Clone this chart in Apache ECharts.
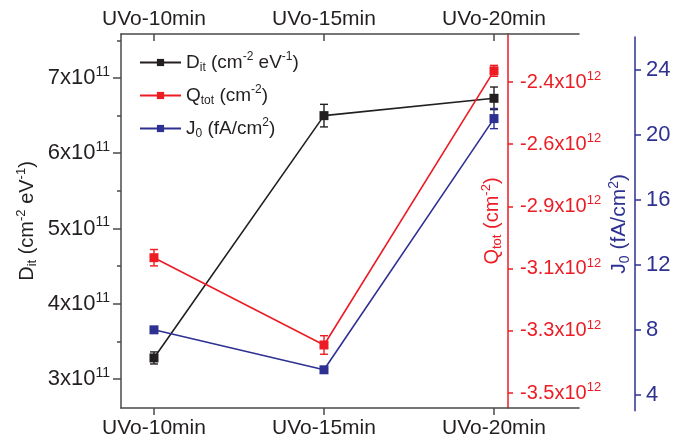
<!DOCTYPE html>
<html><head><meta charset="utf-8">
<script src="https://cdn.jsdelivr.net/npm/echarts@6/dist/echarts.min.js"></script>
<style>html,body{margin:0;padding:0;background:#fff}#c{width:686px;height:444px}</style>
</head><body><div id="c"></div><script>
// ---- data ----
const categories = ['UVo-10min', 'UVo-15min', 'UVo-20min'];
const ditValues = [3.28, 6.50, 6.73];      // x10^11 cm^-2 eV^-1
const ditErrors = [0.08, 0.15, 0.15];
const qtotValues = [-3.044, -3.364, -2.359]; // x10^12 cm^-2
const qtotErrors = [0.03, 0.034, 0.02];
const j0Values = [7.98, 5.52, 20.98];       // fA/cm^2
const j0Errors = [0, 0, 0.62];
const ditTicks = [3, 4, 5, 6, 7];
const ditMinorTicks = [3.5, 4.5, 5.5, 6.5, 7.5];
const qtotTicks = [-3.54, -3.312, -3.084, -2.856, -2.628, -2.4];
const qtotTickLabels = ['-3.5', '-3.3', '-3.1', '-2.9', '-2.6', '-2.4'];
const j0Ticks = [4, 8, 12, 16, 20, 24];
const catTicks = [0, 1, 2];

// ---- style ----
const FONT = '"Liberation Sans", Arial, sans-serif';
const BLACK = '#231f20', RED = '#ed1c24', BLUE = '#2e3192', FRAME = '#4a4a4a';

function richSet(color, size) {
  return {
    a: {fontFamily: FONT, fontSize: size, color: color, lineHeight: size + 4},
    sp: {fontFamily: FONT, fontSize: Math.round(size * 0.65), color: color, verticalAlign: 'top', lineHeight: Math.round(size * 0.65)},
    sb: {fontFamily: FONT, fontSize: Math.round(size * 0.65), color: color, verticalAlign: 'bottom', lineHeight: Math.round(size * 0.65)}
  };
}

const xBase = {
  type: 'value', min: -0.194, max: 2.5,
  splitLine: {show: false},
  axisLine: {show: true, onZero: false, lineStyle: {color: FRAME, width: 1.5}},
};

const xAxes = [
  Object.assign({}, xBase, {
    gridIndex: 0, position: 'bottom',
    axisTick: {show: true, customValues: catTicks, length: 7, lineStyle: {color: FRAME, width: 1.5}},
    axisLabel: {customValues: catTicks, formatter: v => categories[Math.round(v)], fontFamily: FONT, fontSize: 21, color: BLACK, margin: 10}
  }),
  Object.assign({}, xBase, {
    gridIndex: 0, position: 'top',
    axisTick: {show: true, inside: true, customValues: catTicks, length: 7, lineStyle: {color: FRAME, width: 1.5}},
    axisLabel: {customValues: catTicks, formatter: v => categories[Math.round(v)], fontFamily: FONT, fontSize: 21, color: BLACK, margin: 4}
  }),
  Object.assign({}, xBase, {gridIndex: 1, show: false})
];

const yAxes = [
  { // Dit
    type: 'value', gridIndex: 0, position: 'left', min: 2.6146, max: 7.5847,
    splitLine: {show: false},
    axisLine: {show: true, onZero: false, lineStyle: {color: FRAME, width: 1.5}},
    axisTick: {show: true, customValues: ditTicks, length: 8, lineStyle: {color: FRAME, width: 1.5}},
    axisLabel: {customValues: ditTicks, margin: 11, formatter: v => '{a|' + Math.round(v) + 'x10}{sp|11}', rich: richSet(BLACK, 22)},
    name: '{a|D}{sb|it}{a| (cm}{sp|-2}{a| eV}{sp|-1}{a|)}',
    nameLocation: 'middle', nameRotate: 90, nameGap: 82, nameMoveOverlap: false,
    nameTextStyle: {rich: richSet(BLACK, 20)}
  },
  { // Dit minor ticks
    type: 'value', gridIndex: 0, position: 'left', min: 2.6146, max: 7.5847,
    splitLine: {show: false},
    axisLine: {show: false, onZero: false},
    axisTick: {show: true, customValues: ditMinorTicks, length: 4, lineStyle: {color: FRAME, width: 1.5}},
    axisLabel: {show: false}
  },
  { // Qtot
    type: 'value', gridIndex: 0, position: 'right', offset: -71, min: -3.595, max: -2.224,
    splitLine: {show: false},
    axisLine: {show: true, onZero: false, lineStyle: {color: RED, width: 1.5}},
    axisTick: {show: true, customValues: qtotTicks, length: 5, lineStyle: {color: RED, width: 1.5}},
    axisLabel: {customValues: qtotTicks, margin: 12,
      formatter: v => { const i = qtotTicks.findIndex(t => Math.abs(t - v) < 1e-6); return '{a|' + qtotTickLabels[i] + 'x10}{sp|12}'; },
      rich: richSet(RED, 20)},
    name: '{a|Q}{sb|tot}{a| (cm}{sp|-2}{a|)}',
    nameLocation: 'middle', nameRotate: 90, nameGap: -28, nameMoveOverlap: false,
    nameTextStyle: {rich: richSet(RED, 20)}
  },
  { // J0
    type: 'value', gridIndex: 1, position: 'right', offset: 56, min: 3, max: 26,
    splitLine: {show: false},
    axisLine: {show: true, onZero: false, lineStyle: {color: BLUE, width: 1.5}},
    axisTick: {show: true, customValues: j0Ticks, length: 6, lineStyle: {color: BLUE, width: 1.5}},
    axisLabel: {customValues: j0Ticks, margin: 11, fontFamily: FONT, fontSize: 22, color: BLUE},
    name: '{a|J}{sb|0}{a| (fA/cm}{sp|2}{a|)}',
    nameLocation: 'middle', nameRotate: 90, nameGap: -28, nameMoveOverlap: false,
    nameTextStyle: {rich: richSet(BLUE, 21)}
  }
];

function lineSeries(name, values, color, xi, yi) {
  return {
    name: name, type: 'line', xAxisIndex: xi, yAxisIndex: yi,
    data: values.map((v, i) => [i, v]),
    symbol: 'rect', symbolSize: 9,
    lineStyle: {color: color, width: 1.6},
    itemStyle: {color: color},
    z: 3, animation: false
  };
}
function errSeries(values, errors, color, xi, yi) {
  return {
    type: 'custom', xAxisIndex: xi, yAxisIndex: yi, silent: true, z: 2, animation: false,
    data: values.map((v, i) => [i, v - errors[i], v + errors[i]]),
    encode: {x: 0, y: [1, 2]},
    renderItem: (params, api) => {
      const x = api.value(0);
      const lo = api.coord([x, api.value(1)]);
      const hi = api.coord([x, api.value(2)]);
      const w = 4;
      const style = {stroke: color, lineWidth: 1.4, fill: null};
      return {type: 'group', children: [
        {type: 'line', shape: {x1: lo[0], y1: lo[1], x2: hi[0], y2: hi[1]}, style: style},
        {type: 'line', shape: {x1: lo[0] - w, y1: lo[1], x2: lo[0] + w, y2: lo[1]}, style: style},
        {type: 'line', shape: {x1: hi[0] - w, y1: hi[1], x2: hi[0] + w, y2: hi[1]}, style: style}
      ]};
    }
  };
}

const legendRich = richSet(BLACK, 19);
const legendNames = {
  'Dit': '{a|D}{sb|it}{a| (cm}{sp|-2}{a| eV}{sp|-1}{a|)}',
  'Qtot': '{a|Q}{sb|tot}{a| (cm}{sp|-2}{a|)}',
  'J0': '{a|J}{sb|0}{a| (fA/cm}{sp|2}{a|)}'
};

const option = {
  animation: false,
  backgroundColor: '#fff',
  grid: [
    {left: 121, right: 107, top: 34, bottom: 36, containLabel: false, outerBoundsMode: 'none'},
    {left: 121, right: 107, top: 37, bottom: 33.25, containLabel: false, outerBoundsMode: 'none'}
  ],
  xAxis: xAxes,
  yAxis: yAxes,
  legend: {
    data: ['Dit', 'Qtot', 'J0'], orient: 'vertical', left: 139, top: 51, padding: 0,
    itemWidth: 41, itemHeight: 9, itemGap: 10,
    formatter: n => legendNames[n],
    textStyle: {rich: legendRich}
  },
  series: [
    errSeries(ditValues, ditErrors, BLACK, 0, 0),
    errSeries(qtotValues, qtotErrors, RED, 0, 2),
    errSeries(j0Values, j0Errors, BLUE, 2, 3),
    lineSeries('Dit', ditValues, BLACK, 0, 0),
    lineSeries('Qtot', qtotValues, RED, 0, 2),
    lineSeries('J0', j0Values, BLUE, 2, 3)
  ]
};
const chart = echarts.init(document.getElementById('c'), null, {renderer: 'canvas'});
chart.setOption(option);
</script></body></html>
